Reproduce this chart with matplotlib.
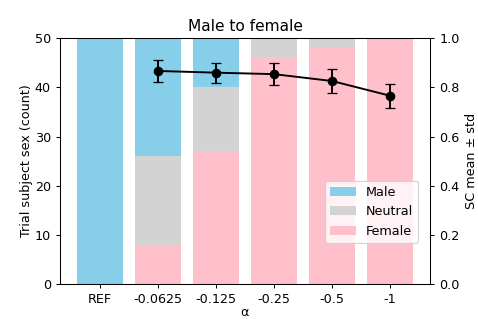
import matplotlib
matplotlib.use("Agg")
import matplotlib.pyplot as plt
import numpy as np

# Data
alphas = ['REF', '-0.0625', '-0.125', '-0.25', '-0.5', '-1']
female = [0, 8, 27, 46, 48, 50]
neutral = [0, 18, 13, 4, 2, 0]
male = [50, 24, 10, 0, 0, 0]

sc_mean = [0.867, 0.860, 0.854, 0.826, 0.766]
sc_std = [0.043, 0.041, 0.044, 0.047, 0.049]

x = np.arange(len(alphas))
female = np.array(female)
neutral = np.array(neutral)
male = np.array(male)

dpi = 92
fig, ax = plt.subplots(figsize=(478 / dpi, 319 / dpi), dpi=dpi)

ax.bar(x, female, width=0.8, color='pink', label='Female')
ax.bar(x, neutral, width=0.8, bottom=female, color='lightgray', label='Neutral')
ax.bar(x, male, width=0.8, bottom=female + neutral, color='skyblue', label='Male')

ax.set_xticks(x)
ax.set_xticklabels(alphas)
ax.set_xlabel('α', labelpad=0)
ax.set_ylabel('Trial subject sex (count)', labelpad=1)
ax.set_ylim(0, 50)
ax.set_title('Male to female')

# legend in Male / Neutral / Female order
handles, labels = ax.get_legend_handles_labels()
ax.legend(handles[::-1], labels[::-1], loc='lower right',
          bbox_to_anchor=(0.968, 0.167), borderaxespad=0)

ax2 = ax.twinx()
ax2.errorbar(x[1:], sc_mean, yerr=sc_std, fmt='o-', color='black',
             capsize=4, markersize=6.5)
ax2.set_ylim(0, 1.0)
ax2.set_ylabel('SC mean ± std')

plt.subplots_adjust(left=0.125, right=0.9, top=0.88, bottom=0.11)
plt.savefig('out.png', dpi=dpi)
